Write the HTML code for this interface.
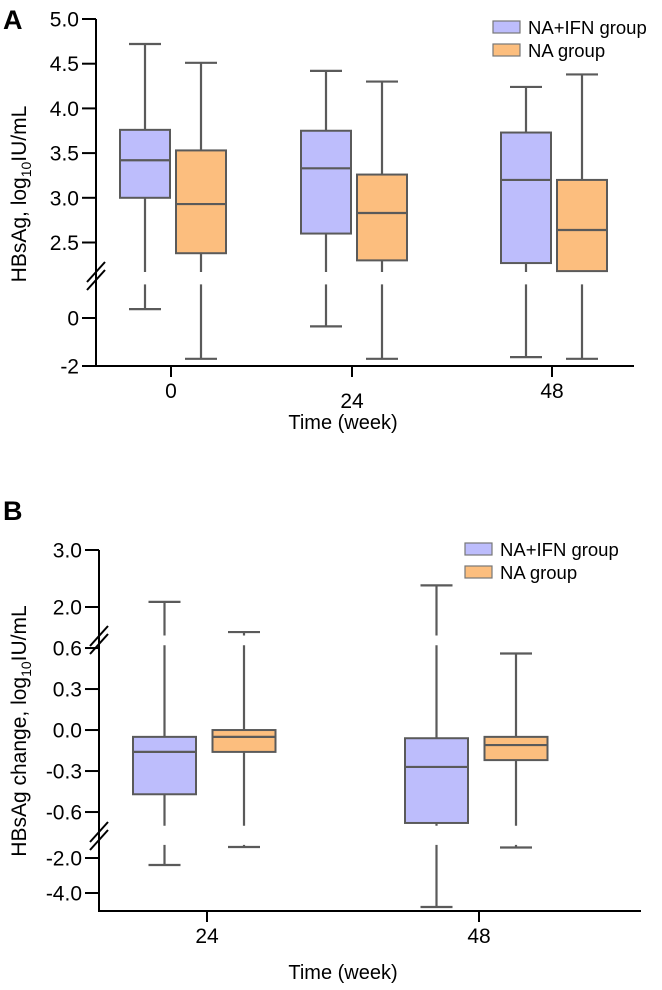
<!DOCTYPE html>
<html><head><meta charset="utf-8">
<style>
html,body{margin:0;padding:0;background:#fff;}
svg{display:block;font-family:"Liberation Sans",Arial,sans-serif;}
</style></head>
<body>
<svg id="fig" width="662" height="990" viewBox="0 0 662 990" xmlns="http://www.w3.org/2000/svg">
  <text x="3" y="29" font-size="27" font-weight="bold">A</text>
  <text x="3" y="520" font-size="27" font-weight="bold">B</text>
  <g id="chartA"></g>
  <g id="chartB"></g>
</svg>
<script>
// ---------- Chart A data ----------
const catsA = ["0", "24", "48"];
const ifnMinA = [0.37, -0.35, -1.63];
const ifnQ1A = [3.0, 2.6, 2.27];
const ifnMedA = [3.42, 3.33, 3.2];
const ifnQ3A = [3.76, 3.75, 3.73];
const ifnMaxA = [4.72, 4.42, 4.24];
const naMinA = [-1.7, -1.7, -1.7];
const naQ1A = [2.38, 2.30, 2.18];
const naMedA = [2.93, 2.83, 2.64];
const naQ3A = [3.53, 3.26, 3.2];
const naMaxA = [4.51, 4.30, 4.38];
const ticksA = ["5.0", "4.5", "4.0", "3.5", "3.0", "2.5", "0", "-2"];
const tickValsA = [5.0, 4.5, 4.0, 3.5, 3.0, 2.5, 0, -2];

// ---------- Chart B data ----------
const catsB = ["24", "48"];
const ifnMinB = [-2.4, -4.8];
const ifnQ1B = [-0.47, -0.68];
const ifnMedB = [-0.16, -0.27];
const ifnQ3B = [-0.05, -0.06];
const ifnMaxB = [2.09, 2.38];
const naMinB = [-1.37, -1.4];
const naQ1B = [-0.16, -0.22];
const naMedB = [-0.05, -0.11];
const naQ3B = [0.0, -0.05];
const naMaxB = [1.56, 0.56];
const ticksB = ["3.0", "2.0", "0.6", "0.3", "0.0", "-0.3", "-0.6", "-2.0", "-4.0"];
const tickValsB = [3.0, 2.0, 0.6, 0.3, 0.0, -0.3, -0.6, -2.0, -4.0];

const NS = "http://www.w3.org/2000/svg";
function mk(parent, tag, attrs) {
  const e = document.createElementNS(NS, tag);
  for (const k in attrs) e.setAttribute(k, attrs[k]);
  parent.appendChild(e);
  return e;
}
function segScale(segs) {
  return function (v) {
    for (const s of segs) {
      if (v >= s.d0 - 1e-9 && v <= s.d1 + 1e-9) return s.y0 + (v - s.d0) * (s.y1 - s.y0) / (s.d1 - s.d0);
    }
    let best = segs[0], bd = Infinity;
    for (const s of segs) { const d = Math.min(Math.abs(v - s.d0), Math.abs(v - s.d1)); if (d < bd) { bd = d; best = s; } }
    return best.y0 + (v - best.d0) * (best.y1 - best.y0) / (best.d1 - best.d0);
  };
}
const PURPLE = "#BDBDFC", ORANGE = "#FCBE7E", STROKE = "#5a5a5a";

function drawChart(g, cfg) {
  const y = segScale(cfg.segs);
  const ax = mk(g, "line", {x1: cfg.axX, y1: cfg.top, x2: cfg.axX, y2: cfg.bottom, stroke: "#000", "stroke-width": 2});
  
  
  const xa = mk(g, "line", {x1: cfg.axX - 1, y1: cfg.bottom, x2: cfg.right, y2: cfg.bottom, stroke: "#000", "stroke-width": 2});
  
  
  cfg.breaks.forEach(by => {
    [-4, 4].forEach(o => {
      const b = mk(g, "line", {x1: cfg.axX - 9, y1: by + o + 10, x2: cfg.axX + 9, y2: by + o - 10, stroke: "#000", "stroke-width": 2});
      
      
    });
  });
  cfg.tickVals.forEach((v, i) => {
    const ty = y(v);
    const t = mk(g, "line", {x1: cfg.axX - 14, y1: ty, x2: cfg.axX, y2: ty, stroke: "#000", "stroke-width": 2});
    
    
    const l = mk(g, "text", {x: cfg.axX - 17, y: ty + 7.5, "font-size": 21, "text-anchor": "end"});
    l.textContent = cfg.tickLabels[i];
    
    
  });
  cfg.cats.forEach((c, i) => {
    const tx = cfg.xTicks[i];
    const t = mk(g, "line", {x1: tx, y1: cfg.bottom, x2: tx, y2: cfg.bottom + 11, stroke: "#000", "stroke-width": 2});
    
    
    const l = mk(g, "text", {x: tx, y: cfg.bottom + 32 + (cfg.xLabelDy ? cfg.xLabelDy[i] : 0), "font-size": 21, "text-anchor": "middle"});
    l.textContent = c;
    
    
    const series = [
      {cx: tx + cfg.off[0], fill: PURPLE, mn: cfg.ifn[0][i], q1: cfg.ifn[1][i], md: cfg.ifn[2][i], q3: cfg.ifn[3][i], mx: cfg.ifn[4][i], name: 'box-na-ifn-' + c},
      {cx: tx + cfg.off[1], fill: ORANGE, mn: cfg.na[0][i], q1: cfg.na[1][i], md: cfg.na[2][i], q3: cfg.na[3][i], mx: cfg.na[4][i], name: 'box-na-' + c}
    ];
    series.forEach(s => {
      const grp = mk(g, "g", {});
      
      
      cfg.segs.forEach(sg => {
        const lo = Math.max(s.mn, sg.d0), hi = Math.min(s.mx, sg.d1);
        if (hi > lo) {
          mk(grp, "line", {x1: s.cx, y1: y(lo), x2: s.cx, y2: y(hi), stroke: STROKE, "stroke-width": 2.2});
        }
      });
      const cw = cfg.capW / 2;
      mk(grp, "line", {x1: s.cx - cw, y1: y(s.mx), x2: s.cx + cw, y2: y(s.mx), stroke: STROKE, "stroke-width": 2.2});
      mk(grp, "line", {x1: s.cx - cw, y1: y(s.mn), x2: s.cx + cw, y2: y(s.mn), stroke: STROKE, "stroke-width": 2.2});
      const bw = cfg.boxW / 2;
      mk(grp, "rect", {x: s.cx - bw, y: y(s.q3), width: cfg.boxW, height: y(s.q1) - y(s.q3), fill: s.fill, stroke: STROKE, "stroke-width": 2});
      mk(grp, "line", {x1: s.cx - bw, y1: y(s.md), x2: s.cx + bw, y2: y(s.md), stroke: STROKE, "stroke-width": 2.2});
    });
  });
  const xt = mk(g, "text", {x: 343, y: cfg.xTitleY, "font-size": 20, "text-anchor": "middle"});
  xt.textContent = "Time (week)";
  
  
  const yt = mk(g, "text", {x: 0, y: 0, "font-size": 21, "text-anchor": "middle", transform: `translate(${cfg.yTitleX},${cfg.yTitleY}) rotate(-90)`});
  yt.innerHTML = cfg.yTitle;
  
  
  const lg = mk(g, "g", {});
  
  
  [["NA+IFN group", PURPLE], ["NA group", ORANGE]].forEach((e, k) => {
    const ly = cfg.legY + k * 23;
    const en = mk(lg, "g", {});
    
    
    mk(en, "rect", {x: cfg.legX, y: ly, width: 27, height: 12, fill: e[1], stroke: "#777", "stroke-width": 1.2});
    const t = mk(en, "text", {x: cfg.legX + 35, y: ly + 13, "font-size": 18.5});
    t.textContent = e[0];
  });
}

drawChart(document.getElementById("chartA"), {
  segs: [{d0: 2.17, d1: 5.0, y0: 272, y1: 19}, {d0: -2, d1: 1.4, y0: 366, y1: 284.4}],
  axX: 96, top: 19, bottom: 366, right: 634, breaks: [276],
  tickVals: tickValsA, tickLabels: ticksA, cats: catsA,
  xTicks: [171, 352, 552], off: [-26, 30], boxW: 50, capW: 32, xLabelDy: [0, 10, 0],
  ifn: [ifnMinA, ifnQ1A, ifnMedA, ifnQ3A, ifnMaxA],
  na: [naMinA, naQ1A, naMedA, naQ3A, naMaxA],
  xTitleY: 429, yTitleX: 26, yTitleY: 194,
  yTitle: 'HBsAg, log<tspan font-size="14" dy="5">10</tspan><tspan dy="-5">IU/mL</tspan>',
  legX: 493, legY: 21
});

drawChart(document.getElementById("chartB"), {
  segs: [{d0: 1.5, d1: 3.0, y0: 635.5, y1: 550}, {d0: -0.7, d1: 0.62, y0: 825.7, y1: 645.3}, {d0: -5.03, d1: -1.25, y0: 911, y1: 844.9}],
  axX: 99, top: 550, bottom: 911, right: 641, breaks: [640, 836],
  tickVals: tickValsB, tickLabels: ticksB, cats: catsB,
  xTicks: [207, 479], off: [-42.5, 37], boxW: 63, capW: 32,
  ifn: [ifnMinB, ifnQ1B, ifnMedB, ifnQ3B, ifnMaxB],
  na: [naMinB, naQ1B, naMedB, naQ3B, naMaxB],
  xTitleY: 979, yTitleX: 26, yTitleY: 731,
  yTitle: 'HBsAg change, log<tspan font-size="14" dy="5">10</tspan><tspan dy="-5">IU/mL</tspan>',
  legX: 465, legY: 543
});
</script>
</body></html>
